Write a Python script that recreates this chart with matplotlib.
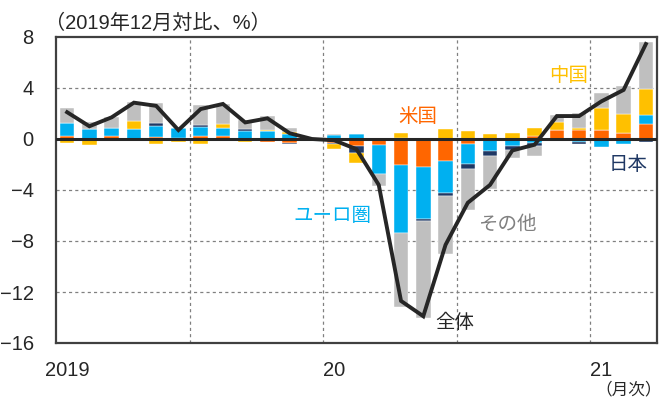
import numpy as np
import matplotlib
matplotlib.use("Agg")
import matplotlib.pyplot as plt

plt.rcParams['font.family'] = ['Liberation Sans', 'Noto Sans CJK JP']

# monthly contributions, 2019/01 .. 2021/03 (vs Dec 2019, %)
us = [0.2, 0.0, 0.2, 0.0, 0.15, 0.1, 0.2, 0.2, 0.0, -0.2, -0.3, 0.0,
      -0.3, -0.55, -0.47, -2.04, -2.17, -1.73, -0.42, 0.0, 0.0, 0.24,
      0.7, 0.7, 0.7, 0.44, 1.18]
euro = [1.05, 0.8, 0.7, 0.75, 0.9, 0.8, 0.73, 0.7, 0.65, 0.63, 0.4, 0.0,
        0.3, 0.37, -2.3, -5.36, -4.13, -2.48, -1.57, -0.97, -0.55, -0.34,
        0.0, -0.26, -0.63, -0.4, 0.7]
japan = [0.0, 0.0, 0.0, 0.0, 0.2, 0.0, 0.13, 0.0, 0.1, 0.0, -0.1, 0.0,
         -0.1, -0.58, 0.0, 0.1, -0.13, -0.26, -0.37, -0.39, -0.31, -0.18,
         -0.13, -0.13, 0.0, 0.0, -0.2]
china = [-0.35, -0.45, -0.15, 0.7, -0.42, -0.25, -0.37, 0.24, -0.23, 0.1,
         0.15, 0.0, -0.35, -0.73, 0.0, 0.35, 0.0, 0.78, 0.65, 0.39, 0.5,
         0.6, 0.65, 0.13, 1.75, 1.52, 2.04]
other = [1.15, 0.55, 0.85, 1.45, 1.55, 0.0, 1.6, 1.57, 0.75, 1.05, 0.35,
         0.0, 0.1, 0.0, -0.92, -5.75, -7.6, -4.58, -3.2, -2.56, -0.65,
         -0.8, 0.52, 1.23, 1.15, 2.22, 3.66]
total = [2.1, 1.0, 1.7, 2.85, 2.6, 0.7, 2.35, 2.75, 1.3, 1.62, 0.45, 0.0,
         -0.1, -0.8, -3.6, -12.7, -13.9, -8.3, -5.0, -3.6, -0.9, -0.45,
         1.8, 1.8, 2.95, 3.85, 7.45]

series = [
    ("米国", us, "#FF6600"),
    ("ユーロ圏", euro, "#00B0F0"),
    ("日本", japan, "#1F3864"),
    ("中国", china, "#FFC000"),
    ("その他", other, "#BFBFBF"),
]
year_labels = ["2019", "20", "21"]

n = len(total)
x = np.arange(n) + 0.5

fig = plt.figure(figsize=(6.64, 3.97), dpi=100)
ax = fig.add_axes([56 / 664, 1 - 343 / 397, 601 / 664, 306 / 397])

pos_base = np.zeros(n)
neg_base = np.zeros(n)
for name, vals, col in series:
    v = np.array(vals)
    bottom = np.where(v >= 0, pos_base, neg_base)
    ax.bar(x, v, width=0.65, bottom=bottom, color=col,
           edgecolor="white", linewidth=0.3, zorder=2)
    pos_base += np.where(v >= 0, v, 0)
    neg_base += np.where(v < 0, v, 0)

ax.axhline(0, color="#262626", lw=2.2, zorder=3)
ax.plot(x, total, color="#262626", lw=2.8, zorder=4, solid_joinstyle="miter")

ax.set_xlim(0, n)
ax.set_ylim(-16, 8)
ax.set_yticks(np.arange(-16, 9, 4))
ax.set_xticks([0.5, 12.5, 24.5])
ax.set_xticklabels(year_labels)
ax.tick_params(axis="both", length=0, labelsize=14.5, colors="#262626")
ax.tick_params(axis="x", pad=13)
ax.tick_params(axis="y", pad=16)

for yv in [4, -4, -8, -12]:
    ax.axhline(yv, color="#808080", lw=0.9, ls=(0, (2.5, 2.5)), zorder=1)
for xv in [6, 12, 18, 24]:
    ax.axvline(xv, color="#808080", lw=0.9, ls=(0, (2.5, 2.5)), zorder=1)

for s in ax.spines.values():
    s.set_color("#404040")
    s.set_linewidth(1.6)

labels = [
    ("中国", 23.05, 4.94, "#FFC000"),
    ("米国", 16.26, 1.73, "#FF6600"),
    ("ユーロ圏", 12.44, -6.04, "#00B0F0"),
    ("その他", 20.26, -6.75, "#808080"),
    ("日本", 25.7, -2.04, "#1F3864"),
    ("全体", 17.92, -14.43, "#262626"),
]
for txt, lx, ly, col in labels:
    ax.text(lx, ly, txt, color=col, fontsize=14, ha="center", va="center",
            zorder=5)

fig.text(45 / 664, 1 - 23 / 397, "（2019年12月対比、%）", fontsize=14.5,
         ha="left", va="center", color="#262626")
fig.text(629 / 664, 1 - 389 / 397, "（月次）", fontsize=12,
         ha="center", va="center", color="#262626")

fig.savefig("out.png", dpi=100)
